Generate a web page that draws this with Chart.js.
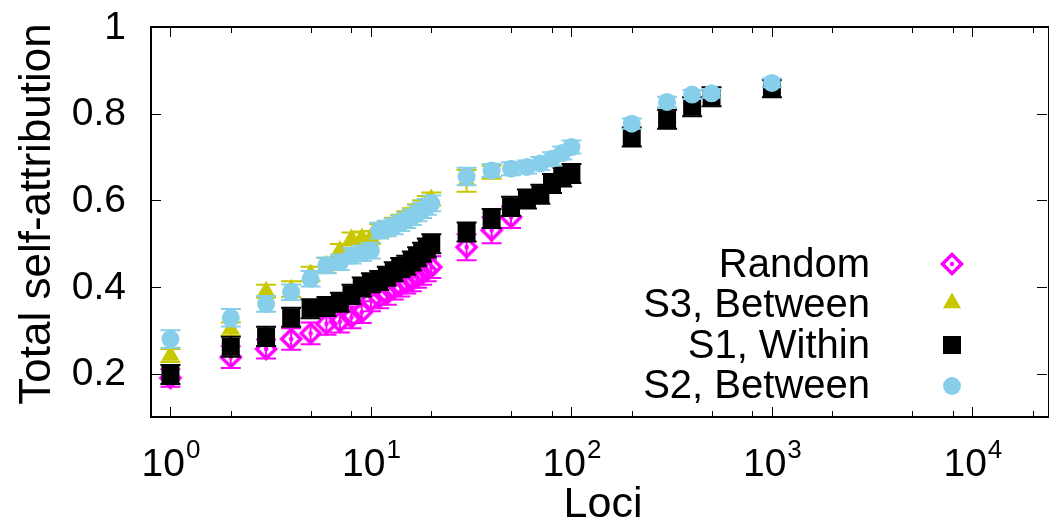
<!DOCTYPE html>
<html><head><meta charset="utf-8">
<script src="https://cdn.jsdelivr.net/npm/chart.js@4.4.0/dist/chart.umd.min.js"></script>
<style>html,body{margin:0;padding:0;background:#fff;overflow:hidden}canvas{display:block}</style>
</head><body>
<canvas id="c" width="1049" height="523" style="width:1049px;height:523px"></canvas>
<script>
// ---- data ----
const randomLoci = [1,2,3,4,5,6,7,8,9,10,11,12,13,14,15,16,17,18,19,20,30,40,50];
const randomVals = [0.19,0.238,0.257,0.28,0.293,0.315,0.32,0.33,0.342,0.369,0.376,0.384,0.396,0.403,0.41,0.415,0.423,0.43,0.438,0.446,0.492,0.531,0.561];
const randomErr  = [0.02,0.025,0.022,0.025,0.025,0.025,0.025,0.025,0.025,0.025,0.025,0.025,0.025,0.025,0.025,0.025,0.025,0.025,0.025,0.025,0.03,0.03,0.025];

const s3Loci = [1,2,3,4,5,6,7,8,9,10,11,12,13,14,15,16,17,18,19,20,30,40];
const s3Vals = [0.242,0.303,0.39,0.395,0.43,0.45,0.484,0.511,0.513,0.514,0.53,0.537,0.545,0.552,0.56,0.567,0.576,0.585,0.595,0.603,0.645,0.665];
const s3Err  = [0.015,0.015,0.015,0.018,0.017,0.017,0.015,0.015,0.015,0.015,0.015,0.015,0.015,0.015,0.015,0.015,0.015,0.015,0.015,0.015,0.025,0.015];

const s1Loci = [1,2,3,4,5,6,7,8,9,10,11,12,13,14,15,16,17,18,19,20,30,40,50,60,70,80,90,100,200,300,400,500,1000];
const s1Vals = [0.198,0.262,0.286,0.33,0.35,0.355,0.365,0.383,0.40,0.41,0.415,0.425,0.435,0.445,0.45,0.46,0.47,0.48,0.49,0.50,0.527,0.558,0.586,0.603,0.614,0.639,0.654,0.662,0.746,0.787,0.816,0.839,0.858];
const s1Err  = [0.022,0.023,0.022,0.022,0.022,0.022,0.022,0.022,0.022,0.022,0.022,0.022,0.022,0.022,0.022,0.022,0.022,0.022,0.022,0.022,0.022,0.022,0.022,0.022,0.022,0.022,0.022,0.022,0.022,0.022,0.022,0.022,0.02];

const s2Loci = [1,2,3,4,5,6,7,8,9,10,11,12,13,14,15,16,17,18,19,20,30,40,50,60,70,80,90,100,200,300,400,500,1000];
const s2Vals = [0.28,0.329,0.361,0.388,0.419,0.45,0.457,0.472,0.478,0.484,0.53,0.535,0.54,0.547,0.554,0.561,0.57,0.577,0.585,0.593,0.655,0.669,0.673,0.677,0.685,0.696,0.709,0.723,0.777,0.827,0.844,0.847,0.871];
const s2Err  = [0.02,0.02,0.018,0.018,0.018,0.018,0.018,0.018,0.018,0.018,0.018,0.018,0.018,0.018,0.018,0.018,0.018,0.018,0.018,0.018,0.02,0.015,0.015,0.015,0.015,0.015,0.015,0.015,0.012,0.012,0.01,0.01,0.01];

const seriesNames = ['Random','S3, Between','S1, Within','S2, Between'];
const yTickValues = [0.2,0.4,0.6,0.8,1.0];
const yTickLabels = ['0.2','0.4','0.6','0.8','1'];
const xMajorValues = [1,10,100,1000,10000];
const xMajorExps = ['0','1','2','3','4'];
const xMinorMult = [2,5,8];

// ---- markers ----
const MAG = '#ff00ff', YEL = '#c8c800', SKY = '#87ceeb', BLK = '#000000';
function diamondImg(){
  const c = document.createElement('canvas'); c.width = 26; c.height = 26;
  const g = c.getContext('2d');
  g.strokeStyle = MAG; g.lineWidth = 3.5; g.lineJoin = 'miter';
  g.beginPath(); g.moveTo(13,3.5); g.lineTo(22.5,13); g.lineTo(13,22.5); g.lineTo(3.5,13); g.closePath(); g.stroke();
  g.fillStyle = MAG; g.beginPath(); g.arc(13,13,2.3,0,Math.PI*2); g.fill();
  return c;
}
const dia = diamondImg();

function pts(xs, ys){ return xs.map((x,i)=>({x:x, y:ys[i]})); }

const datasets = [
  {label:seriesNames[0], data:pts(randomLoci,randomVals), err:randomErr, color:MAG, pointStyle:dia, pointRadius:11, order:3, backgroundColor:MAG, borderColor:MAG, borderWidth:0},
  {label:seriesNames[1], data:pts(s3Loci,s3Vals), err:s3Err, color:YEL, pointStyle:'triangle', pointRadius:10.5, order:2, backgroundColor:YEL, borderColor:YEL, borderWidth:0},
  {label:seriesNames[2], data:pts(s1Loci,s1Vals), err:s1Err, color:BLK, pointStyle:'rect', pointRadius:12.7, order:1, backgroundColor:BLK, borderColor:BLK, borderWidth:0},
  {label:seriesNames[3], data:pts(s2Loci,s2Vals), err:s2Err, color:SKY, pointStyle:'circle', pointRadius:9, order:0, backgroundColor:SKY, borderColor:SKY, borderWidth:0}
];

const FONT = '"Liberation Sans", Arial, Helvetica, sans-serif';

const errorBars = {
  id:'errorBars',
  beforeDatasetDraw(chart, args){
    const ds = chart.data.datasets[args.index];
    const ctx = chart.ctx, y = chart.scales.y, x = chart.scales.x;
    ctx.save();
    ctx.strokeStyle = ds.color; ctx.lineWidth = 2;
    ds.data.forEach((p,i)=>{
      const px = x.getPixelForValue(p.x);
      const y1 = y.getPixelForValue(p.y + ds.err[i]);
      const y0 = y.getPixelForValue(p.y - ds.err[i]);
      ctx.beginPath();
      ctx.moveTo(px,y0); ctx.lineTo(px,y1);
      ctx.moveTo(px-10,y0); ctx.lineTo(px+10,y0);
      ctx.moveTo(px-10,y1); ctx.lineTo(px+10,y1);
      ctx.stroke();
    });
    ctx.restore();
  }
};

function line(ctx,x0,y0,x1,y1){ ctx.beginPath(); ctx.moveTo(x0,y0); ctx.lineTo(x1,y1); ctx.stroke(); }

const frame = {
  id:'frame',
  afterDraw(chart){
    const ctx = chart.ctx, a = chart.chartArea, x = chart.scales.x, y = chart.scales.y;
    ctx.save();
    ctx.strokeStyle = '#000'; ctx.lineWidth = 1;
    // x ticks
    xMajorValues.forEach(v=>{
      const px = Math.round(x.getPixelForValue(v))+0.5;
      if (px < a.left || px > a.right) return;
      line(ctx,px,a.bottom,px,a.bottom-10); line(ctx,px,a.top,px,a.top+10);
      xMinorMult.forEach(m=>{
        const q = Math.round(x.getPixelForValue(v*m))+0.5;
        if (q <= a.left || q >= a.right) return;
        line(ctx,q,a.bottom,q,a.bottom-6); line(ctx,q,a.top,q,a.top+6);
      });
    });
    // y ticks
    yTickValues.forEach(v=>{
      const py = Math.round(y.getPixelForValue(v))+0.5;
      line(ctx,a.left,py,a.left+10,py); line(ctx,a.right-2,py,a.right-12,py);
    });
    // border
    ctx.lineWidth = 2;
    ctx.strokeRect(a.left, a.top, a.right-a.left, a.bottom-a.top);
    // y tick labels
    ctx.fillStyle = '#000';
    ctx.font = '39px ' + FONT; ctx.textAlign = 'right'; ctx.textBaseline = 'middle';
    yTickValues.forEach((v,i)=>{ ctx.fillText(yTickLabels[i], 126, y.getPixelForValue(v)+1); });
    // x tick labels
    ctx.textBaseline = 'alphabetic'; ctx.textAlign = 'left';
    xMajorValues.forEach((v,i)=>{
      const px = x.getPixelForValue(v);
      ctx.font = '39px ' + FONT; const w1 = ctx.measureText('10').width;
      ctx.font = '26px ' + FONT; const w2 = ctx.measureText(xMajorExps[i]).width;
      const x0 = px - (w1+w2)/2;
      ctx.font = '39px ' + FONT; ctx.fillText('10', x0, 476);
      ctx.font = '26px ' + FONT; ctx.fillText(xMajorExps[i], x0+w1+1, 458);
    });
    // axis titles
    ctx.font = '43px ' + FONT; ctx.textAlign = 'center';
    ctx.fillText('Loci', 603, 517);
    ctx.save();
    ctx.translate(50, 214); ctx.rotate(-Math.PI/2);
    ctx.font = '44px ' + FONT; ctx.textAlign = 'center'; ctx.textBaseline = 'alphabetic';
    ctx.fillText('Total self-attribution', 0, 0);
    ctx.restore();
    // legend
    const base = [277, 317, 358, 398];
    const mid = [264, 303, 345, 386];
    ctx.font = '40px ' + FONT; ctx.textAlign = 'right'; ctx.textBaseline = 'alphabetic';
    chart.data.datasets.forEach((ds,i)=>{
      ctx.fillStyle = '#000';
      ctx.fillText(ds.label, 870, base[i]);
      const cx = 952, cy = mid[i];
      ctx.fillStyle = ds.color;
      if (ds.pointStyle === dia) { ctx.drawImage(dia, cx-13, cy-13); }
      else if (ds.pointStyle === 'triangle') {
        const r = 10.5; ctx.beginPath();
        ctx.moveTo(cx, cy - r); ctx.lineTo(cx + r*Math.sin(2*Math.PI/3), cy + r/2); ctx.lineTo(cx - r*Math.sin(2*Math.PI/3), cy + r/2); ctx.closePath(); ctx.fill();
      } else if (ds.pointStyle === 'rect') { ctx.fillRect(cx-9, cy-9, 18, 18); }
      else { ctx.beginPath(); ctx.arc(cx, cy, 9, 0, Math.PI*2); ctx.fill(); }
    });
    ctx.restore();
  }
};

new Chart(document.getElementById('c'), {
  type:'scatter',
  data:{datasets:datasets},
  options:{
    responsive:false, devicePixelRatio:1, animation:false,
    layout:{autoPadding:false, padding:{left:151, top:27, right:0, bottom:106}},
    plugins:{legend:{display:false}, tooltip:{enabled:false}},
    scales:{
      x:{type:'logarithmic', min:0.8, max:24100, display:false},
      y:{type:'linear', min:0.1, max:1.0, display:false}
    }
  },
  plugins:[errorBars, frame]
});
</script>
</body></html>
